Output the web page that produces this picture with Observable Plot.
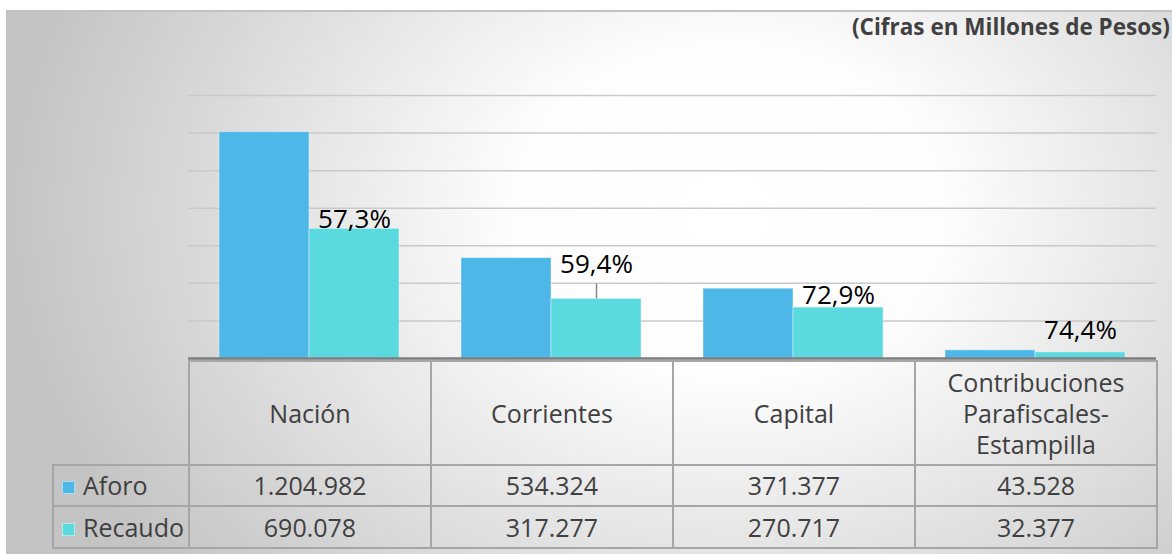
<!DOCTYPE html>
<html>
<head>
<meta charset="utf-8">
<script src="https://cdn.jsdelivr.net/npm/d3@7"></script>
<script src="https://cdn.jsdelivr.net/npm/@observablehq/plot@0.6"></script>
<style>
  body { margin: 0; background: #ffffff; }
  #wrap { position: relative; width: 1172px; height: 554px; overflow: hidden; font-family: "Open Sans", sans-serif; }
  #frame { position: absolute; left: 6px; top: 10px; width: 1172px; height: 560px;
    border-left: 2px solid #c2c2c2; border-top: 2px solid #c2c2c2;
    background: radial-gradient(ellipse 720px 560px at 720px 200px, #ffffff 0%, #fdfdfd 30%, #c4c4c4 100%); }
  #title { position: absolute; left: 852px; top: 11px; font-weight: 700; font-size: 22.5px; color: #404040; white-space: nowrap; }
  #chart { position: absolute; left: 0; top: 0; }
  #tbl { position: absolute; left: 52px; top: 360px; border-collapse: collapse; table-layout: fixed; color: #404040; font-size: 25px; }
  #tbl td { border: 2px solid #a6a6a6; text-align: center; padding: 0; vertical-align: middle; }
  #tbl td.head { height: 102px; line-height: 31px; }
  #tbl td.blank { border-top: none; border-left: none; }
  #tbl td.leg { text-align: left; padding-left: 8px; white-space: nowrap; }
  #tbl tr.r1 td { height: 39px; line-height: 39px; }
  #tbl tr.r2 td { height: 40px; line-height: 40px; }
  .sw { display: inline-block; width: 13px; height: 13px; margin-right: 8px; vertical-align: 1px; border: 1px solid rgba(255,255,255,0.5); box-sizing: border-box; }
</style>
</head>
<body>
<div id="wrap">
  <div id="frame"></div>
  <div id="title">(Cifras en Millones de Pesos)</div>
  <div id="chart"></div>
  <table id="tbl"></table>
</div>
<script>
// ---- data ----
const categories = ["Nación", "Corrientes", "Capital", "Contribuciones Parafiscales-Estampilla"];
const headerLines = [["Nación"], ["Corrientes"], ["Capital"], ["Contribuciones", "Parafiscales-", "Estampilla"]];
const series = ["Aforo", "Recaudo"];
const aforo = [1204982, 534324, 371377, 43528];
const recaudo = [690078, 317277, 270717, 32377];
const aforoLabels = ["1.204.982", "534.324", "371.377", "43.528"];
const recaudoLabels = ["690.078", "317.277", "270.717", "32.377"];
const pctLabels = ["57,3%", "59,4%", "72,9%", "74,4%"];
const yTicks = [200000, 400000, 600000, 800000, 1000000, 1200000, 1400000];
const colors = ["#4db8e8", "#5ad9df"];

// ---- derived tables ----
const rows = categories.flatMap((c, i) => [
  {cat: c, serie: "Aforo", value: aforo[i]},
  {cat: c, serie: "Recaudo", value: recaudo[i]}
]);
const labels = categories.map((c, i) => ({cat: c, serie: "Recaudo", value: recaudo[i], text: pctLabels[i]}));

const labelDy = [-1, -26, -4, -13];
const font = "Open Sans, sans-serif";

const plot = Plot.plot({
  width: 1172,
  height: 362,
  marginLeft: 188,
  marginRight: 16,
  marginTop: 95,
  marginBottom: 4,
  style: {background: "transparent", overflow: "visible", fontFamily: font},
  fx: {domain: categories, padding: 0, axis: null},
  x: {domain: series, paddingInner: 0, paddingOuter: 0.344, axis: null},
  y: {domain: [0, 1400000], axis: null},
  color: {domain: series, range: colors},
  marks: [
    Plot.ruleY(yTicks, {stroke: "#c9c9c9", strokeWidth: 1.5}),
    Plot.barY(rows, {fx: "cat", x: "serie", y: "value", fill: "serie", stroke: "#ffffff", strokeOpacity: 0.4, strokeWidth: 1}),
    Plot.ruleX(labels.filter(d => d.cat === "Corrientes"), {fx: "cat", x: "serie", y1: "value", y2: "value", insetTop: -15, stroke: "#8a8a8a", strokeWidth: 1.5}),
    ...categories.map((c, i) => Plot.text(labels.filter(d => d.cat === c), {
      fx: "cat", x: "serie", y: "value", text: "text", lineAnchor: "bottom",
      dy: labelDy[i], fontSize: 26, fill: "#000000", fontFamily: font
    })),
    Plot.ruleY([0], {stroke: "#7c7c7c", strokeWidth: 2.5})
  ]
});
document.getElementById("chart").appendChild(plot);

// ---- data table ----
const tbl = document.getElementById("tbl");
const colg = document.createElement("colgroup");
[136, 242, 242, 242, 242].forEach(w => { const c = document.createElement("col"); c.style.width = w + "px"; colg.appendChild(c); });
tbl.appendChild(colg);
const tr0 = document.createElement("tr");
const blank = document.createElement("td"); blank.className = "blank head"; tr0.appendChild(blank);
headerLines.forEach(lines => {
  const td = document.createElement("td"); td.className = "head";
  td.innerHTML = lines.join("<br>");
  tr0.appendChild(td);
});
tbl.appendChild(tr0);
[[series[0], aforoLabels, colors[0], "r1"], [series[1], recaudoLabels, colors[1], "r2"]].forEach(([name, vals, col, cls]) => {
  const tr = document.createElement("tr"); tr.className = cls;
  const lg = document.createElement("td"); lg.className = "leg";
  lg.innerHTML = `<span class="sw" style="background:${col}"></span>${name}`;
  tr.appendChild(lg);
  vals.forEach(v => { const td = document.createElement("td"); td.textContent = v; tr.appendChild(td); });
  tbl.appendChild(tr);
});
</script>
</body>
</html>
